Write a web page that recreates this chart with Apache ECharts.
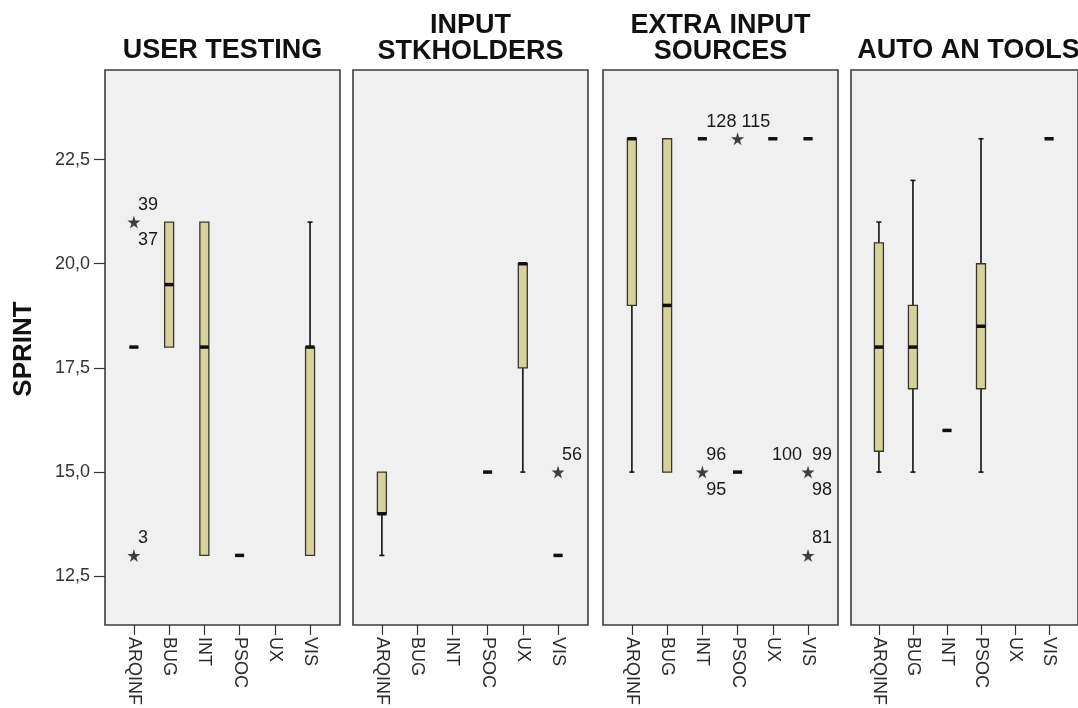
<!DOCTYPE html>
<html>
<head>
<meta charset="utf-8">
<title>SPRINT by category and practice</title>
<script src="https://cdn.jsdelivr.net/npm/echarts@6/dist/echarts.min.js"></script>
<style>
  html, body { margin: 0; padding: 0; background: #ffffff; }
  #chart { width: 1078px; height: 708px; }
</style>
</head>
<body>
<div id="chart"></div>
<script>
// Categories shared by every panel
const categories = ['ARQINF', 'BUG', 'INT', 'PSOC', 'UX', 'VIS'];

// Panel titles
const panelTitles = ['USER TESTING', 'INPUT\nSTKHOLDERS', 'EXTRA INPUT\nSOURCES', 'AUTO AN TOOLS'];

// Box statistics per category: [lower whisker, Q1, median, Q3, upper whisker]; null = no cases
const userTesting       = [[18, 18, 18, 18, 18], [18, 18, 19.5, 21, 21], [13, 13, 18, 21, 21], [13, 13, 13, 13, 13], null, [13, 13, 18, 18, 21]];
const inputStakeholders = [[13, 14, 14, 15, 15], null, null, [15, 15, 15, 15, 15], [15, 17.5, 20, 20, 20], [13, 13, 13, 13, 13]];
const extraInputSources = [[15, 19, 23, 23, 23], [15, 15, 19, 23, 23], [23, 23, 23, 23, 23], [15, 15, 15, 15, 15], [23, 23, 23, 23, 23], [23, 23, 23, 23, 23]];
const autoAnalysisTools = [[15, 15.5, 18, 20.5, 21], [15, 17, 18, 19, 22], [16, 16, 16, 16, 16], [15, 17, 18.5, 20, 23], null, [23, 23, 23, 23, 23]];
const panelStats = [userTesting, inputStakeholders, extraInputSources, autoAnalysisTools];

// Extreme cases (drawn as stars): [category index, SPRINT value, case ids]
const extremeUserTesting  = [[0, 21, ['39', '37']], [0, 13, ['3']]];
const extremeStakeholders = [[5, 15, ['56']]];
const extremeExtraInput   = [[2, 15, ['96', '95']], [3, 23, ['115']], [5, 15, ['100', '99', '98']], [5, 13, ['81']]];
const extremeAutoTools    = [];
const panelExtremes = [extremeUserTesting, extremeStakeholders, extremeExtraInput, extremeAutoTools];

// Case ids printed over a collapsed box (no separate marker)
const boxCaseIds = [[], [], [[2, 23, ['128']]], []];

// Y axis tick values
const yTicks = [12.5, 15, 17.5, 20, 22.5];
const yMin = 11.33, yMax = 24.65;

// ---- layout / style ----
const FONT = '"Liberation Sans", Arial, sans-serif';
const panelLeft = [105, 353, 603, 851];
const panelWidth = 235, panelTop = 70, panelHeight = 557;
const xMin = -0.82, xMax = 5.85;
const BOX_FILL = '#d6d29e', BOX_STROKE = '#3b3626', INK = '#111111';
const STAR = 'path://M50,0 L61,35 L98,35 L68,57 L79,91 L50,70 L21,91 L32,57 L2,35 L39,35 Z';

function renderBox(params, api) {
  const c = api.value(0);
  const lo = api.value(1), q1 = api.value(2), med = api.value(3), q3 = api.value(4), hi = api.value(5);
  const pLo = api.coord([c, lo]), pQ1 = api.coord([c, q1]), pMed = api.coord([c, med]);
  const pQ3 = api.coord([c, q3]), pHi = api.coord([c, hi]);
  const x = pMed[0], half = 4.5, cap = 2.5;
  const kids = [];
  if (hi > q3) {
    kids.push({ type: 'line', shape: { x1: x, y1: pQ3[1], x2: x, y2: pHi[1] }, style: { stroke: INK, lineWidth: 1.6 } });
    kids.push({ type: 'line', shape: { x1: x - cap, y1: pHi[1], x2: x + cap, y2: pHi[1] }, style: { stroke: INK, lineWidth: 1.6 } });
  }
  if (lo < q1) {
    kids.push({ type: 'line', shape: { x1: x, y1: pQ1[1], x2: x, y2: pLo[1] }, style: { stroke: INK, lineWidth: 1.6 } });
    kids.push({ type: 'line', shape: { x1: x - cap, y1: pLo[1], x2: x + cap, y2: pLo[1] }, style: { stroke: INK, lineWidth: 1.6 } });
  }
  kids.push({
    type: 'rect',
    shape: { x: x - half, y: pQ3[1], width: half * 2, height: pQ1[1] - pQ3[1] },
    style: { fill: BOX_FILL, stroke: BOX_STROKE, lineWidth: 1.3 }
  });
  kids.push({ type: 'line', shape: { x1: x - half, y1: pMed[1], x2: x + half, y2: pMed[1] }, style: { stroke: INK, lineWidth: 3.5 } });
  return { type: 'group', children: kids };
}

// Case id placement around a marker: one id above right, two above/below right,
// three: above left, above right, below right
function slotsFor(n) {
  if (n === 1) return ['ur'];
  if (n === 2) return ['ur', 'lr'];
  return ['ul', 'ur', 'lr'];
}

function renderIds(params, api) {
  const c = api.value(0), v = api.value(1);
  const ids = String(api.value(2)).split('|');
  const p = api.coord([c, v]);
  const slots = slotsFor(ids.length);
  const kids = ids.map((id, i) => {
    const s = slots[i];
    const left = s === 'ul';
    return {
      type: 'text',
      x: left ? p[0] - 6 : p[0] + 4,
      y: s === 'lr' ? p[1] + 18 : p[1] - 17,
      style: {
        text: id, fill: '#1a1a1a', font: '18px ' + FONT,
        textAlign: left ? 'right' : 'left', textVerticalAlign: 'middle'
      }
    };
  });
  return { type: 'group', children: kids };
}

const grids = [], xAxes = [], yAxes = [], series = [], titles = [];

panelStats.forEach((stats, i) => {
  grids.push({
    left: panelLeft[i], top: panelTop, width: panelWidth, height: panelHeight,
    show: true, backgroundColor: '#f0f0f0', borderColor: '#3d3d3d', borderWidth: 1.6
  });
  xAxes.push({
    type: 'value', gridIndex: i, min: xMin, max: xMax, position: 'bottom',
    axisLine: { show: false, onZero: false }, splitLine: { show: false },
    axisTick: { show: true, length: 10, customValues: [0, 1, 2, 3, 4, 5], lineStyle: { color: '#333', width: 1.2 } },
    axisLabel: {
      show: true, customValues: [0, 1, 2, 3, 4, 5], rotate: -90, margin: 12,
      formatter: v => categories[Math.round(v)] || '',
      color: '#2b2b2b', fontSize: 18, fontFamily: FONT
    }
  });
  yAxes.push({
    type: 'value', gridIndex: i, min: yMin, max: yMax, position: 'left',
    axisLine: { show: false, onZero: false }, splitLine: { show: false },
    axisTick: { show: i === 0, length: 11, customValues: yTicks, lineStyle: { color: '#333', width: 1.2 } },
    axisLabel: {
      show: i === 0, customValues: yTicks, margin: 15,
      formatter: v => v.toFixed(1).replace('.', ','),
      color: '#333', fontSize: 18, fontFamily: FONT
    }
  });

  const boxData = [];
  stats.forEach((s, c) => { if (s) boxData.push([c].concat(s)); });
  series.push({
    type: 'custom', xAxisIndex: i, yAxisIndex: i, renderItem: renderBox,
    data: boxData, encode: { x: 0, y: [1, 2, 3, 4, 5] }, silent: true, z: 2
  });

  series.push({
    type: 'scatter', xAxisIndex: i, yAxisIndex: i, symbol: STAR, symbolSize: 13,
    itemStyle: { color: INK }, data: panelExtremes[i].map(e => [e[0], e[1]]), silent: true, z: 3
  });

  const idData = panelExtremes[i].concat(boxCaseIds[i]).map(e => [e[0], e[1], e[2].join('|')]);
  series.push({
    type: 'custom', xAxisIndex: i, yAxisIndex: i, renderItem: renderIds,
    data: idData, encode: { x: 0, y: 1 }, silent: true, z: 4,
    dimensions: ['c', 'v', { name: 'ids', type: 'ordinal' }]
  });

  const lines = panelTitles[i].split('\n').length;
  titles.push({
    text: panelTitles[i], left: panelLeft[i] + panelWidth / 2, textAlign: 'center',
    top: lines === 2 ? 13 : 38, padding: 0,
    textStyle: { fontSize: 27, fontWeight: 'bold', fontFamily: FONT, color: '#111', lineHeight: 26 }
  });
});

const chart = echarts.init(document.getElementById('chart'), null, { renderer: 'canvas' });
chart.setOption({
  backgroundColor: '#ffffff',
  animation: false,
  title: titles,
  grid: grids,
  xAxis: xAxes,
  yAxis: yAxes,
  series: series,
  graphic: [{
    type: 'text', x: 24, y: 349, rotation: Math.PI / 2,
    style: { text: 'SPRINT', font: 'bold 26px ' + FONT, fill: '#111', textAlign: 'center', textVerticalAlign: 'middle' }
  }]
});
</script>
</body>
</html>
